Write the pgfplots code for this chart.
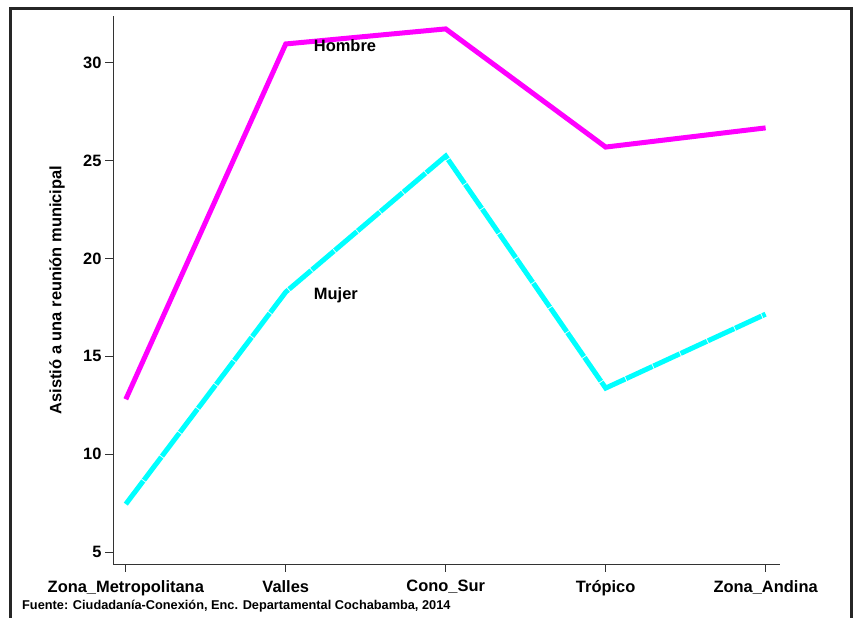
\documentclass[border=0pt]{standalone}
\usepackage{fontspec}
\setmainfont{Liberation Sans}
\usepackage{pgfplots}
\pgfplotsset{compat=1.18}
\definecolor{framec}{HTML}{262626}
\definecolor{axc}{HTML}{333333}
\begin{document}
\begin{tikzpicture}[x=1bp,y=1bp]
\useasboundingbox (0,0) rectangle (856,618);
\draw[framec, line width=3bp] (10,-5) -- (10,609) -- (851,609) -- (851,-5);
\begin{axis}[
  at={(113bp,54bp)}, anchor=south west,
  scale only axis, width=667bp, height=548bp,
  xmin=-0.08, xmax=4.09, ymin=4.39, ymax=32.4,
  axis lines=left, axis line style={axc, line width=0.9bp, -},
  xtick={0,1,2,3,4},
  xticklabels={Zona\_Metropolitana, Valles, Cono\_Sur, Trópico, Zona\_Andina},
  ytick={5,10,15,20,25,30},
  tick align=outside, major tick length=8bp,
  tick style={axc, line width=0.9bp},
  /pgf/number format/assume math mode=true,
  ticklabel style={font=\fontsize{16.5}{18}\selectfont\bfseries},
  xticklabel style={yshift=-5bp},
  ylabel={Asistió a una reunión municipal},
  every axis y label/.style={at={(axis description cs:0,0.5)}, xshift=-56bp, rotate=90, anchor=center, font=\fontsize{16.5}{18}\selectfont\bfseries},
  clip=false,
]
\addplot[color={rgb,255:red,255;green,0;blue,255}, line width=5bp] coordinates {
 (0,12.81) (1,30.97) (2,31.74) (3,25.70) (4,26.68)};
\addplot[color={rgb,255:red,0;green,255;blue,255}, line width=5bp, dash pattern=on 29bp off 1bp] coordinates {
 (0,7.45) (1,18.29) (2,25.24) (3,13.38) (4,17.16)};
\node[anchor=west, font=\fontsize{16.5}{18}\selectfont\bfseries, inner sep=0pt] at (axis cs:1.175,30.87) {Hombre};
\node[anchor=west, font=\fontsize{16.5}{18}\selectfont\bfseries, inner sep=0pt] at (axis cs:1.175,18.13) {Mujer};
\end{axis}
\node[anchor=west, inner sep=0pt, font=\fontsize{12.8}{14}\selectfont\bfseries] at (22,12) {Fuente: Ciudadanía-Conexión, Enc. Departamental Cochabamba, 2014};
\end{tikzpicture}
\end{document}
